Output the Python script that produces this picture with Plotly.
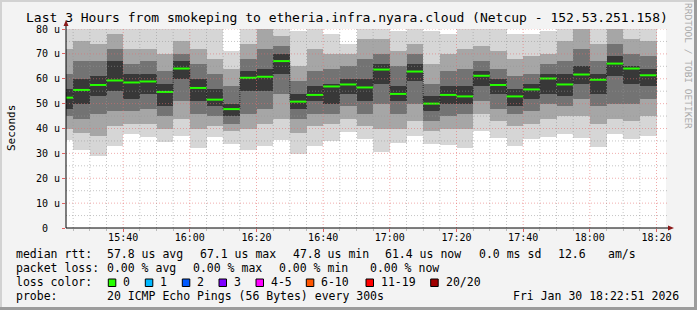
import pandas as pd
import plotly.graph_objects as go

# ---------------- data ----------------
bar_ends = pd.date_range("2026-01-30 15:25", periods=36, freq="5min")

median = [52.4, 55.5, 57.5, 59.3, 58.5, 58.9, 54.7, 64.1, 56.3, 51.6, 47.8, 60.4,
          60.8, 67.1, 50.8, 53.5, 56.9, 57.7, 56.5, 63.7, 53.9, 62.9, 50.0, 53.5,
          52.9, 61.2, 57.5, 52.9, 55.7, 60.1, 57.7, 61.7, 59.6, 66.1, 64.1, 61.4]

smoke_min = [35.5, 31.4, 28.8, 32.8, 37.9, 36.5, 34.4, 37.1, 32.2, 36.5, 33.9, 31.4,
             33.1, 35.5, 29.6, 32.8, 34.8, 38.5, 35.7, 30.6, 34.0, 37.1, 33.9, 33.5,
             32.2, 39.1, 36.1, 32.8, 35.7, 36.7, 37.6, 36.2, 32.7, 37.6, 35.7, 37.1]
smoke_q2lo = [40, 38, 37, 41, 42, 42, 40, 44, 40, 41, 39, 40, 42, 44, 38, 41, 42, 44,
              41, 40, 40, 43, 39, 40, 40, 46, 43, 41, 42, 44, 45, 45, 42, 44, 43, 45]
smoke_q3lo = [45, 44, 46, 47, 47, 48, 45, 51, 46, 45, 42, 46, 48, 54, 44, 46, 46, 49,
              46, 50, 46, 50, 43, 45, 46, 51, 48, 46, 47, 50, 49, 52, 49, 50, 50, 52]
smoke_corelo = [48, 50, 53, 55, 52, 54, 49, 60, 51, 49, 45, 55, 55, 62, 48, 51, 50, 54,
                51, 58, 51, 59, 47, 50, 50, 57, 54, 49, 52, 54, 53, 58, 54, 61, 58, 57]
smoke_corehi = [56, 60, 61, 67, 62, 62, 58, 67, 60, 56, 50, 63, 64, 70, 54, 57, 58, 60,
                60, 66, 57, 66, 53, 57, 57, 63, 60, 56, 58, 62, 62, 65, 62, 69, 65, 64]
smoke_q3hi = [62, 67, 67, 72, 66, 67, 63, 70, 66, 62, 57, 68, 72, 73, 59, 63, 64, 65,
              68, 70, 65, 70, 58, 63, 64, 67, 64, 61, 62, 66, 67, 72, 67, 74, 70, 69]
smoke_q2hi = [72, 75, 74, 78, 72, 72, 70, 75, 72, 68, 64, 74, 82, 77, 65, 72, 70, 70,
              76, 76, 71, 74, 66, 70, 72, 73, 71, 68, 69, 70, 75, 80, 74, 80, 76, 75]
smoke_max = [85, 85, 84, 86, 84, 83, 80, 81, 82, 80, 71, 82, 90, 83, 79, 80, 78, 74,
             85, 82, 79, 80, 79, 78, 80, 81, 80, 78, 78, 79, 81, 88, 82, 88, 84, 82]

y_tickvals = [0, 10, 20, 30, 40, 50, 60, 70, 80]
y_ticktext = ["0\u00a0\u00a0", "10 u", "20 u", "30 u", "40 u", "50 u", "60 u", "70 u", "80 u"]

title_text = "Last 3 Hours from smokeping to etheria.infra.nyara.cloud (Netcup - 152.53.251.158)"
rtt_stats = ["57.8 us avg", "67.1 us max", "47.8 us min", "61.4 us now", "0.0 ms sd", "12.6", "am/s"]
loss_stats = ["0.00 % avg", "0.00 % max", "0.00 % min", "0.00 % now"]
loss_labels = ["0", "1", "2", "3", "4-5", "6-10", "11-19", "20/20"]
loss_colors = ["#26ff00", "#00b8ff", "#0059ff", "#7e00ff", "#ff00ff", "#ff5500", "#ff0000", "#a10000"]
probe_text = "20 ICMP Echo Pings (56 Bytes) every 300s"
date_text = "Fri Jan 30 18:22:51 2026"

# ---------------- figure ----------------
MONO = "DejaVu Sans Mono"
L, R, T, B = 66, 31, 29, 82
W, H = 697, 310
PW, PH = W - L - R, H - T - B

def pp(px, py):
    return (px - L) / PW, (H - B - py) / PH

step = pd.Timedelta(minutes=5)
starts = bar_ends - step
centers = bar_ends - step / 2

fig = go.Figure()

layers = [
    (smoke_min, smoke_max, "#d6d6d6"),
    (smoke_q2lo, smoke_q2hi, "#a6a6a6"),
    (smoke_q3lo, smoke_q3hi, "#737373"),
    (smoke_corelo, smoke_corehi, "#383838"),
]
for lo, hi, col in layers:
    fig.add_trace(go.Bar(
        x=centers, y=[h - l for l, h in zip(lo, hi)], base=lo,
        width=300000, marker=dict(color=col, line=dict(width=0)),
        showlegend=False, hoverinfo="skip"))

# median step (dark dotted verticals)
fig.add_trace(go.Scatter(
    x=list(starts) + [bar_ends[-1]], y=median + [median[-1]],
    mode="lines", line=dict(shape="hv", color="#202020", width=1, dash="1px,1px"),
    showlegend=False, hoverinfo="skip"))

# green median segments
gx, gy = [], []
for s, e, m in zip(starts, bar_ends, median):
    gx += [s, e, None]
    gy += [m, m, None]
fig.add_trace(go.Scatter(x=gx, y=gy, mode="lines",
                         line=dict(color=loss_colors[0], width=2),
                         showlegend=False, hoverinfo="skip"))

shapes = []
# grid lines above smoke
t = pd.Timestamp("2026-01-30 15:25")
while t <= pd.Timestamp("2026-01-30 18:20"):
    major = (t.minute % 20 == 0)
    shapes.append(dict(type="line", xref="x", yref="paper", x0=t, x1=t, y0=0, y1=1,
                       layer="above",
                       line=dict(color="rgba(230,110,110,0.6)" if major else "rgba(150,150,150,0.55)",
                                 width=1, dash="1px,2px")))
    t += step
for v in range(5, 81, 5):
    major = (v % 10 == 0)
    shapes.append(dict(type="line", xref="paper", yref="y", x0=0, x1=1.004, y0=v, y1=v,
                       layer="above",
                       line=dict(color="rgba(230,110,110,0.55)" if major else "rgba(150,150,150,0.55)",
                                 width=1, dash="1px,2px")))

# axis extensions and arrows
x_end, _ = pp(668, 0)
shapes.append(dict(type="line", xref="paper", yref="paper", x0=0, x1=x_end, y0=0, y1=0,
                   line=dict(color="black", width=1)))
ax0, ay0 = pp(668, 225.5)
ax1, ay1 = pp(674, 228)
ax2, ay2 = pp(668, 230.5)
shapes.append(dict(type="path", xref="paper", yref="paper",
                   path=f"M {ax0} {ay0} L {ax1} {ay1} L {ax2} {ay2} Z",
                   fillcolor="#8b1a1a", line=dict(width=0)))
_, ytop = pp(0, 25)
shapes.append(dict(type="line", xref="paper", yref="paper", x0=0, x1=0, y0=0, y1=ytop,
                   line=dict(color="black", width=1)))
bx0, by0 = pp(63.5, 26)
bx1, by1 = pp(66, 20)
bx2, by2 = pp(68.5, 26)
shapes.append(dict(type="path", xref="paper", yref="paper",
                   path=f"M {bx0} {by0} L {bx1} {by1} L {bx2} {by2} Z",
                   fillcolor="#8b1a1a", line=dict(width=0)))

# frame
def prect(x0, y0, x1, y1, col):
    a0, b0 = pp(x0, y0)
    a1, b1 = pp(x1, y1)
    return dict(type="rect", xref="paper", yref="paper", x0=a0, y0=b0, x1=a1, y1=b1,
                fillcolor=col, line=dict(width=0), layer="above")
shapes.append(prect(0, 0, W, 2, "#d2d2d2"))
shapes.append(prect(0, 0, 2, H, "#d2d2d2"))
shapes.append(prect(W - 3, 0, W, H, "#9c9c9c"))
shapes.append(prect(0, H - 3, W, H, "#9c9c9c"))

annotations = []
def txt(px, py, s, size=11.5, anchor="left", color="black", angle=0):
    x, y = pp(px, py)
    annotations.append(dict(x=x, y=y, xref="paper", yref="paper", text=s, showarrow=False,
                            xanchor=anchor, yanchor="middle", textangle=angle,
                            font=dict(family=MONO, size=size, color=color)))

txt(347, 17.5, title_text, size=13, anchor="center")
txt(11, 128, "Seconds", size=11, anchor="center", angle=-90)
txt(689, 66, "RRDTOOL / TOBI OETIKER", size=9.5, anchor="center", color="#a9a9a9", angle=90)

row1 = [16, 107.3, 200, 293.3, 385, 479.3, 558.3, 607.7]
txt(row1[0] - 2, 254.3, "median rtt:")
for xp, s in zip(row1[1:], rtt_stats):
    txt(xp - 2, 254.3, s)
row2 = [16, 107.3, 193.3, 279.3, 370]
txt(row2[0] - 2, 268.3, "packet loss:")
for xp, s in zip(row2[1:], loss_stats):
    txt(xp - 2, 268.3, s)
txt(14, 282.3, "loss color:")
box_x = [108.3, 145.3, 182.3, 219, 256, 306.3, 366, 430.7]
for bxp, lab, col in zip(box_x, loss_labels, loss_colors):
    a0, b0 = pp(bxp, 279)
    a1, b1 = pp(bxp + 7.5, 286.5)
    shapes.append(dict(type="rect", xref="paper", yref="paper", x0=a0, y0=b0, x1=a1, y1=b1,
                       fillcolor=col, line=dict(color="black", width=1)))
    txt(bxp + 13, 282.3, lab)
txt(14, 296, "probe:")
txt(105.3, 296, probe_text)
txt(511.3, 296, date_text)

fig.update_layout(
    width=W, height=H, margin=dict(l=L, r=R, t=T, b=B, pad=0),
    paper_bgcolor="#f3f3f3", plot_bgcolor="white",
    barmode="overlay", bargap=0, showlegend=False,
    shapes=shapes, annotations=annotations,
    font=dict(family=MONO, size=10, color="black"),
    xaxis=dict(type="date", range=["2026-01-30 15:22:51", "2026-01-30 18:22:51"],
               tick0="2026-01-30 15:40", dtick=1200000, tickformat="%H:%M",
               showgrid=False, zeroline=False, showline=False,
               ticks="outside", ticklen=3, tickcolor="rgba(220,60,60,0.8)",
               ticklabelstandoff=-3,
               tickfont=dict(family=MONO, size=10, color="black"),
               minor=dict(dtick=300000, tick0="2026-01-30 15:25", ticks="outside",
                          ticklen=2, tickcolor="#bbbbbb", showgrid=False)),
    yaxis=dict(range=[0, 80], tickvals=y_tickvals, ticktext=y_ticktext,
               showgrid=False, zeroline=False, showline=False,
               ticks="outside", ticklen=3, tickcolor="rgba(220,60,60,0.8)",
               tickfont=dict(family=MONO, size=10, color="black")),
)

fig.write_html("out.html")
